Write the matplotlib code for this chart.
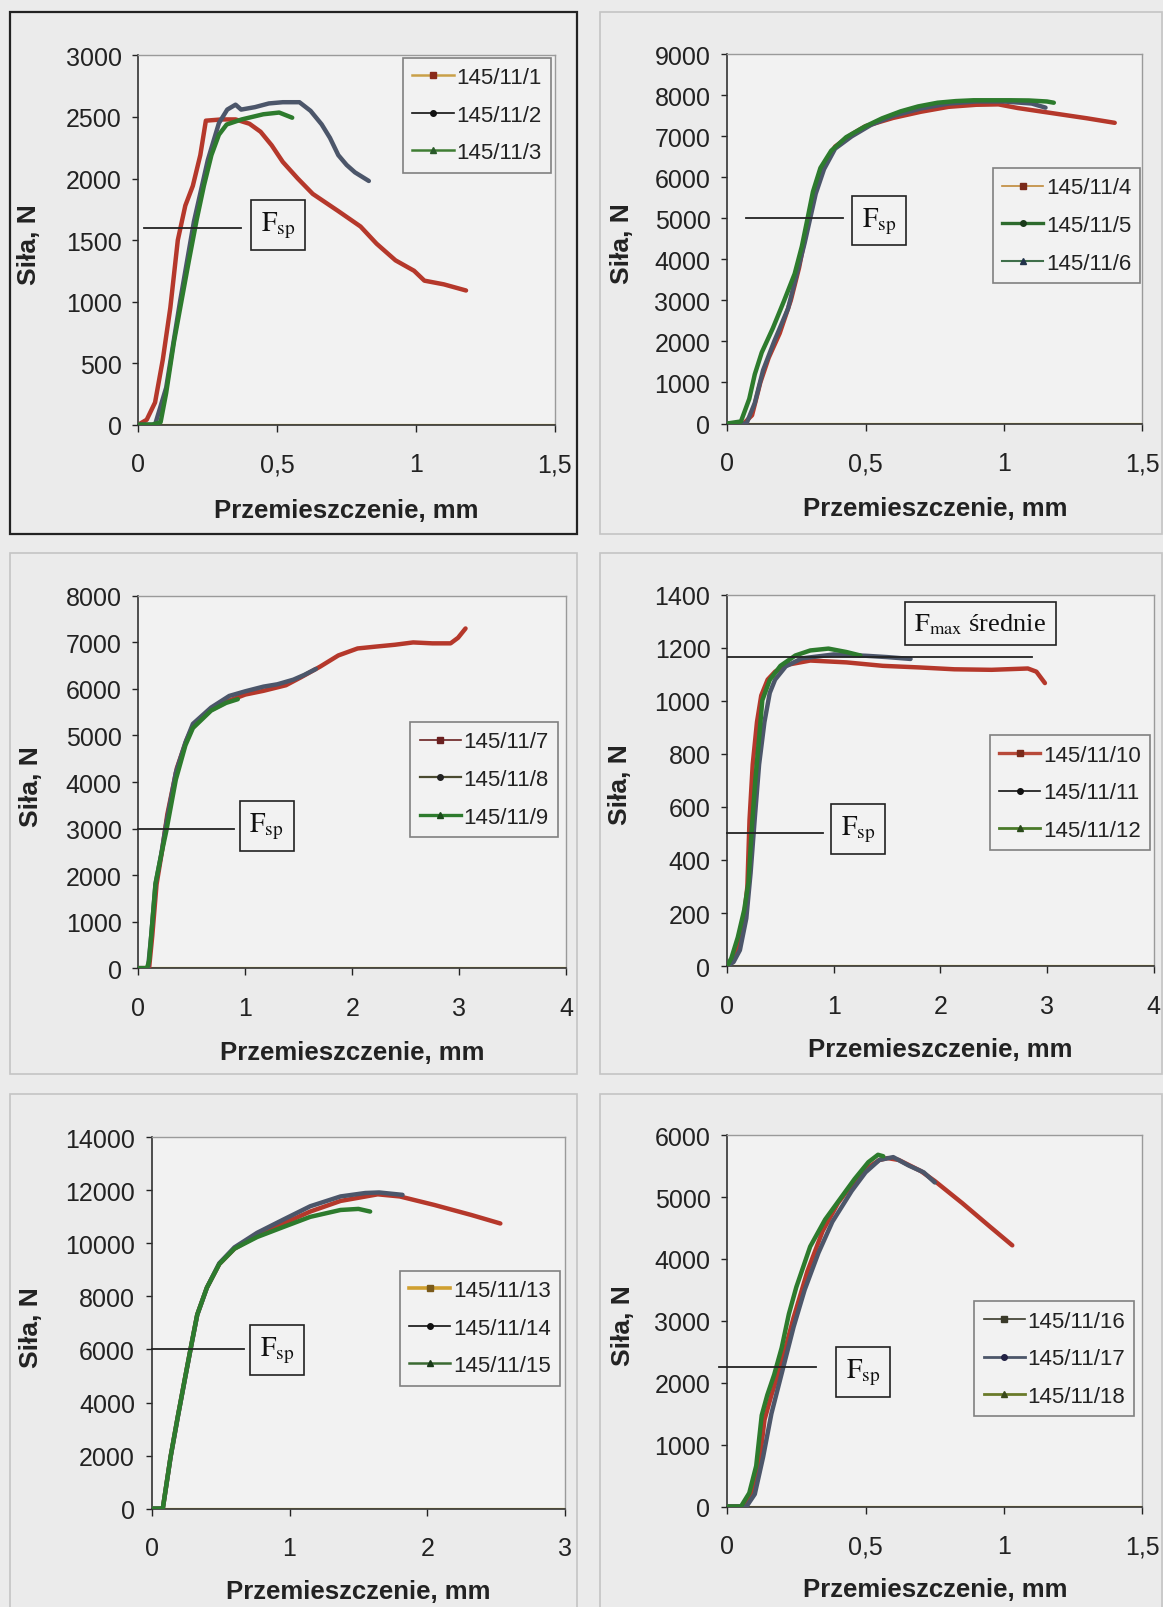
import matplotlib
matplotlib.use('Agg')
import matplotlib.pyplot as plt
from matplotlib.lines import Line2D
from matplotlib.patches import Rectangle

plt.rcParams['font.family'] = ['Liberation Sans', 'DejaVu Sans']
plt.rcParams['mathtext.fontset'] = 'stix'

# ---------------- data ----------------
# Panel 1
p1_labels = ['145/11/1', '145/11/2', '145/11/3']
p1_x1 = [0, 0.03, 0.06, 0.088, 0.115, 0.142, 0.169, 0.196, 0.223, 0.243, 0.30, 0.35, 0.40, 0.44, 0.48, 0.52,
         0.574, 0.628, 0.72, 0.80, 0.858, 0.926, 0.993, 1.03, 1.10, 1.18]
p1_y1 = [0, 40, 180, 530, 950, 1500, 1780, 1940, 2190, 2470, 2480, 2480, 2445, 2380, 2270, 2135,
         2000, 1875, 1735, 1610, 1470, 1335, 1250, 1170, 1140, 1090]
p1_x2 = [0, 0.06, 0.10, 0.15, 0.20, 0.25, 0.29, 0.32, 0.35, 0.37, 0.42, 0.47, 0.52, 0.58, 0.62, 0.66, 0.69,
         0.72, 0.75, 0.78, 0.83]
p1_y2 = [0, 0, 300, 1000, 1650, 2150, 2450, 2560, 2600, 2560, 2580, 2610, 2620, 2620, 2550, 2440, 2330,
         2190, 2110, 2050, 1980]
p1_x3 = [0, 0.05, 0.08, 0.10, 0.128, 0.155, 0.182, 0.21, 0.236, 0.263, 0.29, 0.318, 0.372, 0.45, 0.507, 0.554]
p1_y3 = [0, 0, 20, 257, 671, 1003, 1334, 1666, 1942, 2190, 2356, 2439, 2480, 2522, 2536, 2494]

# Panel 2
p2_labels = ['145/11/4', '145/11/5', '145/11/6']
p2_x4 = [0, 0.06, 0.09, 0.12, 0.15, 0.19, 0.23, 0.26, 0.28, 0.30, 0.32, 0.35, 0.39, 0.45, 0.50, 0.60, 0.70,
         0.80, 0.90, 0.98, 1.05, 1.12, 1.20, 1.30, 1.40]
p2_y4 = [0, 0, 200, 1000, 1600, 2200, 3000, 3800, 4500, 5100, 5700, 6300, 6750, 7050, 7250, 7450, 7600,
         7720, 7770, 7780, 7690, 7620, 7540, 7440, 7330]
p2_x5 = [0, 0.05, 0.08, 0.10, 0.125, 0.165, 0.205, 0.244, 0.27, 0.29, 0.31, 0.337, 0.376, 0.43, 0.495, 0.56,
         0.627, 0.69, 0.76, 0.826, 0.89, 0.96, 1.02, 1.09, 1.155, 1.18]
p2_y5 = [0, 50, 600, 1200, 1730, 2320, 2980, 3650, 4320, 4980, 5650, 6230, 6650, 6980, 7230, 7440,
         7610, 7730, 7820, 7860, 7880, 7880, 7880, 7875, 7850, 7820]
p2_x6 = [0, 0.07, 0.10, 0.13, 0.17, 0.22, 0.25, 0.28, 0.30, 0.32, 0.35, 0.39, 0.45, 0.52, 0.60, 0.70, 0.80,
         0.90, 1.00, 1.10, 1.15]
p2_y6 = [0, 0, 500, 1300, 2000, 2800, 3600, 4400, 5000, 5600, 6200, 6700, 7000, 7280, 7500, 7680, 7800,
         7850, 7850, 7800, 7700]

# Panel 3
p3_labels = ['145/11/7', '145/11/8', '145/11/9']
p3_x7 = [0, 0.10, 0.13, 0.17, 0.22, 0.27, 0.36, 0.45, 0.52, 0.68, 0.85, 1.00, 1.17, 1.38, 1.52, 1.70, 1.87,
         2.05, 2.22, 2.40, 2.57, 2.75, 2.92, 2.99, 3.06]
p3_y7 = [0, 0, 700, 1800, 2500, 3300, 4300, 4900, 5250, 5550, 5750, 5880, 5960, 6080, 6250, 6480, 6720,
         6870, 6910, 6950, 7000, 6980, 6980, 7100, 7300]
p3_x8 = [0, 0.09, 0.12, 0.16, 0.21, 0.26, 0.35, 0.44, 0.51, 0.68, 0.85, 1.00, 1.17, 1.30, 1.45, 1.55, 1.66]
p3_y8 = [0, 0, 700, 1800, 2400, 3100, 4200, 4850, 5250, 5600, 5850, 5950, 6050, 6100, 6200, 6300, 6430]
p3_x9 = [0, 0.08, 0.10, 0.12, 0.16, 0.21, 0.26, 0.35, 0.44, 0.51, 0.68, 0.82, 0.93]
p3_y9 = [0, 0, 150, 700, 1820, 2400, 2935, 4050, 4790, 5160, 5535, 5700, 5780]

# Panel 4
p4_labels = ['145/11/10', '145/11/11', '145/11/12']
p4_x10 = [0, 0.05, 0.10, 0.15, 0.19, 0.21, 0.24, 0.28, 0.32, 0.38, 0.45, 0.55, 0.78, 1.12, 1.46, 1.80, 2.13,
          2.48, 2.82, 2.90, 2.98]
p4_y10 = [0, 20, 60, 150, 300, 550, 760, 920, 1020, 1080, 1110, 1135, 1152, 1145, 1132, 1126, 1119,
          1117, 1122, 1110, 1067]
p4_x11 = [0, 0.06, 0.12, 0.18, 0.22, 0.26, 0.30, 0.35, 0.40, 0.45, 0.55, 0.70, 1.00, 1.30, 1.50, 1.72]
p4_y11 = [0, 15, 60, 180, 350, 560, 760, 920, 1030, 1080, 1130, 1160, 1175, 1170, 1165, 1158]
p4_x12 = [0, 0.04, 0.10, 0.16, 0.20, 0.23, 0.265, 0.30, 0.33, 0.40, 0.50, 0.64, 0.78, 0.95, 1.12, 1.25]
p4_y12 = [0, 30, 108, 211, 315, 510, 704, 860, 1002, 1079, 1132, 1171, 1190, 1197, 1184, 1171]

# Panel 5
p5_labels = ['145/11/13', '145/11/14', '145/11/15']
p5_x13 = [0, 0.08, 0.137, 0.19, 0.245, 0.287, 0.33, 0.40, 0.49, 0.60, 0.765, 0.956, 1.15, 1.37, 1.64, 1.80,
          2.05, 2.32, 2.53]
p5_y13 = [0, 0, 1970, 3500, 5025, 6170, 7315, 8330, 9220, 9800, 10300, 10750, 11200, 11600, 11850, 11770,
          11450, 11070, 10750]
p5_x14 = [0, 0.08, 0.137, 0.19, 0.245, 0.287, 0.33, 0.40, 0.49, 0.60, 0.765, 0.956, 1.15, 1.37, 1.55, 1.65, 1.82]
p5_y14 = [0, 0, 1950, 3480, 5000, 6150, 7300, 8330, 9250, 9850, 10400, 10900, 11400, 11770, 11900, 11920, 11830]
p5_x15 = [0, 0.08, 0.137, 0.19, 0.245, 0.287, 0.33, 0.40, 0.49, 0.60, 0.765, 0.956, 1.15, 1.37, 1.50, 1.585]
p5_y15 = [0, 0, 1970, 3500, 5025, 6170, 7315, 8330, 9220, 9800, 10240, 10620, 11000, 11260, 11300, 11200]

# Panel 6
p6_labels = ['145/11/16', '145/11/17', '145/11/18']
p6_x16 = [0, 0.06, 0.09, 0.115, 0.135, 0.16, 0.185, 0.21, 0.24, 0.29, 0.345, 0.40, 0.45, 0.50, 0.55, 0.58,
          0.62, 0.70, 0.75, 0.85, 0.95, 1.03]
p6_y16 = [0, 0, 200, 650, 1400, 1800, 2150, 2550, 3050, 3800, 4450, 4900, 5200, 5450, 5600, 5630,
          5600, 5420, 5260, 4900, 4520, 4220]
p6_x17 = [0, 0.07, 0.10, 0.13, 0.16, 0.20, 0.24, 0.28, 0.33, 0.38, 0.45, 0.50, 0.55, 0.60, 0.656, 0.71, 0.75]
p6_y17 = [0, 0, 200, 800, 1500, 2200, 2900, 3500, 4100, 4600, 5100, 5400, 5600, 5646, 5510, 5400, 5237]
p6_x18 = [0, 0.05, 0.08, 0.105, 0.125, 0.145, 0.17, 0.197, 0.223, 0.25, 0.30, 0.354, 0.407, 0.46, 0.51,
          0.545, 0.564]
p6_y18 = [0, 0, 218, 655, 1473, 1800, 2130, 2564, 3110, 3546, 4200, 4637, 4964, 5290, 5564, 5684, 5660]

# axis ticks
ticks_15 = [0, 0.5, 1, 1.5]
ticklabels_15 = ['0', '0,5', '1', '1,5']
ticks_4 = [0, 1, 2, 3, 4]
ticklabels_4 = ['0', '1', '2', '3', '4']
ticks_3 = [0, 1, 2, 3]
ticklabels_3 = ['0', '1', '2', '3']

# annotation levels (Fsp, Fmax)
p1_fsp, p2_fsp, p3_fsp, p4_fsp, p5_fsp, p6_fsp = 1600, 5000, 3000, 500, 6000, 2250
p4_fmax = 1165

# ---------------- styling ----------------
BG = '#ebebeb'
AXBG = '#f2f2f2'
RED = '#b5382b'
DARK = '#4c566a'
GREEN = '#2d7b2d'

fig = plt.figure(figsize=(11.63, 16.08), dpi=100, facecolor=BG)

# outer panel frames (figure fraction)
frames = [
    (0.0088, 0.6671, 0.4877, 0.3246, '#222222', 1.6),
    (0.5159, 0.6671, 0.4830, 0.3246, '#c4c4c4', 1.2),
    (0.0088, 0.3316, 0.4877, 0.3240, '#c4c4c4', 1.2),
    (0.5159, 0.3316, 0.4830, 0.3240, '#c4c4c4', 1.2),
    (0.0088, -0.01, 0.4877, 0.3289, '#c4c4c4', 1.2),
    (0.5159, -0.01, 0.4830, 0.3289, '#c4c4c4', 1.2),
]
for (x0, y0, w, h, ec, lw) in frames:
    fig.add_artist(Rectangle((x0, y0), w, h, transform=fig.transFigure, fill=False,
                             edgecolor=ec, linewidth=lw, zorder=0))

panels = [
    dict(rect=[0.1190, 0.7353, 0.3581, 0.2296], xlim=(0, 1.5), xt=ticks_15, xtl=ticklabels_15,
         ylim=(0, 3000), yt=list(range(0, 3001, 500)),
         series=[(p1_x1, p1_y1, RED), (p1_x2, p1_y2, DARK), (p1_x3, p1_y3, GREEN)], labels=p1_labels,
         leg=(0.3466, 0.9636), legcols=[('#c9a048', 1.8, 's', '#8a2a1a'), ('#111111', 1.2, 'o', '#111111'),
                                        ('#3f7d33', 1.8, '^', '#2a5a2a')],
         fsp=p1_fsp, fsp_line=(0.02, 0.37), fsp_box=(0.504, 1625), ylab=(-0.262, 0.49), xlab=-0.232),
    dict(rect=[0.6252, 0.7360, 0.3571, 0.2296], xlim=(0, 1.5), xt=ticks_15, xtl=ticklabels_15,
         ylim=(0, 9000), yt=list(range(0, 9001, 1000)),
         series=[(p2_x4, p2_y4, RED), (p2_x6, p2_y6, DARK), (p2_x5, p2_y5, GREEN)],
         labels=p2_labels,
         leg=(0.8536, 0.8948), legcols=[('#c08a3a', 1.2, 's', '#7a2a1a'), ('#2d6b2d', 2.4, 'o', '#1a3a1a'),
                                        ('#3f6f4a', 1.5, '^', '#22334a')],
         fsp=p2_fsp, fsp_line=(0.067, 0.42), fsp_box=(0.548, 4950), ylab=(-0.252, 0.49), xlab=-0.229),
    dict(rect=[0.1190, 0.3973, 0.3677, 0.2315], xlim=(0, 4), xt=ticks_4, xtl=ticklabels_4,
         ylim=(0, 8000), yt=list(range(0, 8001, 1000)),
         series=[(p3_x7, p3_y7, RED), (p3_x8, p3_y8, DARK), (p3_x9, p3_y9, GREEN)], labels=p3_labels,
         leg=(0.3527, 0.5504), legcols=[('#6a2020', 1.2, 's', '#6a2020'), ('#4a4a30', 1.6, 'o', '#222222'),
                                        ('#2d7b2d', 2.4, '^', '#1a4a1a')],
         fsp=p3_fsp, fsp_line=(0.0, 0.89), fsp_box=(1.20, 3063), ylab=(-0.252, 0.49), xlab=-0.226),
    dict(rect=[0.6252, 0.3986, 0.3668, 0.2309], xlim=(0, 4), xt=ticks_4, xtl=ticklabels_4,
         ylim=(0, 1400), yt=list(range(0, 1401, 200)),
         series=[(p4_x10, p4_y10, RED), (p4_x11, p4_y11, DARK), (p4_x12, p4_y12, GREEN)], labels=p4_labels,
         leg=(0.851, 0.5421), legcols=[('#b84a3a', 2.4, 's', '#7a2a1a'), ('#111111', 1.2, 'o', '#111111'),
                                       ('#4a7a2a', 2.0, '^', '#2a4a1a')],
         fsp=p4_fsp, fsp_line=(0.0, 0.9), fsp_box=(1.23, 518), ylab=(-0.25, 0.49), xlab=-0.224,
         fmax=p4_fmax, fmax_line=(0.0, 2.86), fmax_box=(2.375, 1292)),
    dict(rect=[0.1305, 0.0612, 0.3554, 0.2309], xlim=(0, 3), xt=ticks_3, xtl=ticklabels_3,
         ylim=(0, 14000), yt=list(range(0, 14001, 2000)),
         series=[(p5_x13, p5_y13, RED), (p5_x14, p5_y14, DARK), (p5_x15, p5_y15, GREEN)], labels=p5_labels,
         leg=(0.3439, 0.2092), legcols=[('#d0a030', 2.6, 's', '#7a5a1a'), ('#111111', 1.2, 'o', '#111111'),
                                        ('#3a6a32', 1.8, '^', '#1a3a1a')],
         fsp=p5_fsp, fsp_line=(0.0, 0.67), fsp_box=(0.91, 5994), ylab=(-0.293, 0.49), xlab=-0.222),
    dict(rect=[0.6252, 0.0625, 0.3571, 0.2309], xlim=(0, 1.5), xt=ticks_15, xtl=ticklabels_15,
         ylim=(0, 6000), yt=list(range(0, 6001, 1000)),
         series=[(p6_x16, p6_y16, RED), (p6_x17, p6_y17, DARK), (p6_x18, p6_y18, GREEN)], labels=p6_labels,
         leg=(0.8377, 0.19), legcols=[('#3a3a2a', 1.2, 's', '#3a3a2a'), ('#4c566a', 2.0, 'o', '#222244'),
                                      ('#6a7a2a', 2.0, '^', '#3a4a1a')],
         fsp=p6_fsp, fsp_line=(-0.03, 0.32), fsp_box=(0.49, 2171), ylab=(-0.25, 0.49), xlab=-0.222),
]

for p in panels:
    ax = fig.add_axes(p['rect'])
    ax.set_facecolor(AXBG)
    ax.set_xlim(*p['xlim'])
    ax.set_ylim(*p['ylim'])
    ax.set_xticks(p['xt'])
    ax.set_xticklabels(p['xtl'])
    ax.set_yticks(p['yt'])
    ax.set_yticklabels([str(v) for v in p['yt']])
    for s in ['top', 'right']:
        ax.spines[s].set_color('#9a9a9a')
        ax.spines[s].set_linewidth(1.0)
    for s in ['left', 'bottom']:
        ax.spines[s].set_color('#333333')
        ax.spines[s].set_linewidth(1.2)
    ax.tick_params(axis='y', direction='out', length=4, width=1, pad=8, labelsize=18, colors='#222222')
    ax.tick_params(axis='x', direction='out', length=5, width=1, pad=15, labelsize=18, colors='#222222')
    ax.axhline(0, color='#cfc060', lw=1.6, zorder=1.5)

    for (xs, ys, col) in p['series']:
        ax.plot(xs, ys, color=col, lw=3.2, solid_capstyle='round', zorder=3)

    # Fsp marker line + box
    ax.plot(list(p['fsp_line']), [p['fsp'], p['fsp']], color='#222222', lw=1.3, zorder=4, clip_on=False)
    ax.text(p['fsp_box'][0], p['fsp_box'][1], r'$\mathrm{F}_{\mathrm{sp}}$', fontsize=20,
            ha='center', va='center', color='#111111', zorder=5,
            bbox=dict(boxstyle='square,pad=0.35', fc=AXBG, ec='#222222', lw=1.2))
    if 'fmax' in p:
        ax.plot(list(p['fmax_line']), [p['fmax'], p['fmax']], color='#222222', lw=1.3, zorder=4)
        ax.text(p['fmax_box'][0], p['fmax_box'][1], r'$\mathrm{F}_{\mathrm{max}}$ średnie', fontsize=19,
                family=['Liberation Serif', 'DejaVu Serif'], ha='center', va='center', color='#111111',
                zorder=5, bbox=dict(boxstyle='square,pad=0.35', fc=AXBG, ec='#222222', lw=1.2))

    handles = []
    for (lc, lw, mk, mc) in p['legcols']:
        handles.append(Line2D([0], [0], color=lc, lw=lw, marker=mk, markersize=4,
                              markerfacecolor=mc, markeredgecolor=mc))
    leg = ax.legend(handles, p['labels'], loc='upper left', bbox_to_anchor=p['leg'],
                    bbox_transform=fig.transFigure, borderaxespad=0, fontsize=16, frameon=True,
                    fancybox=False, edgecolor='#808080', facecolor=AXBG, framealpha=1,
                    handlelength=1.85, handletextpad=0.12, labelspacing=0.75, borderpad=0.42)
    leg.get_frame().set_linewidth(1.2)
    for t in leg.get_texts():
        t.set_color('#222222')

    ax.set_xlabel('Przemieszczenie, mm', fontsize=18.5, fontweight='bold', color='#222222')
    ax.xaxis.label.set_va('center')
    ax.xaxis.set_label_coords(0.5, p['xlab'])
    ax.set_ylabel('Siła, N', fontsize=19, fontweight='bold', color='#222222')
    ax.yaxis.label.set_va('center')
    ax.yaxis.set_label_coords(p['ylab'][0], p['ylab'][1])

fig.savefig('out.png', dpi=100, facecolor=BG)
